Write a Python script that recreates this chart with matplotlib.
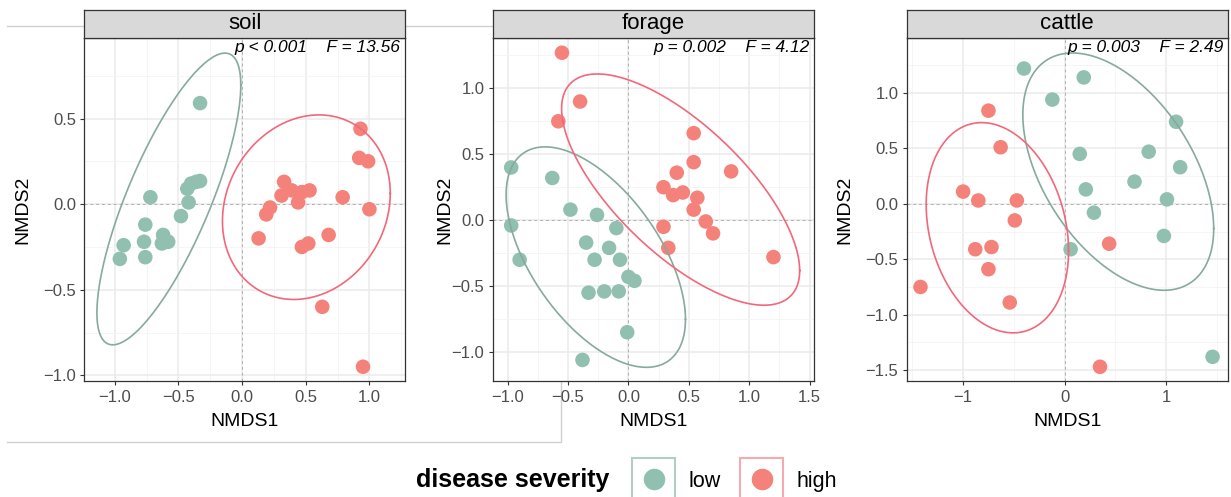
import numpy as np
import matplotlib
matplotlib.use("Agg")
import matplotlib.pyplot as plt
from matplotlib.patches import Rectangle
from matplotlib.lines import Line2D

plt.rcParams['font.family'] = ['Liberation Sans', 'DejaVu Sans']

LOW_COLOR = '#92c0b0'
HIGH_COLOR = '#f4827a'
LOW_LINE = '#86aa9c'
HIGH_LINE = '#f2687a'

# NMDS scores per sample, split by disease severity
soil_low_x = [-0.33, -0.72, -0.43, -0.40, -0.36, -0.33, -0.42, -0.48, -0.76, -0.62,
              -0.58, -0.63, -0.77, -0.76, -0.93, -0.96]
soil_low_y = [0.59, 0.04, 0.09, 0.12, 0.13, 0.135, 0.01, -0.07, -0.12, -0.18,
              -0.22, -0.23, -0.22, -0.31, -0.24, -0.32]
soil_high_x = [0.93, 0.92, 0.99, 0.33, 0.31, 0.39, 0.47, 0.53, 0.44, 0.79,
               1.00, 0.22, 0.19, 0.13, 0.47, 0.52, 0.68, 0.63, 0.95]
soil_high_y = [0.44, 0.27, 0.25, 0.13, 0.05, 0.08, 0.07, 0.08, 0.01, 0.04,
               -0.03, -0.02, -0.06, -0.20, -0.25, -0.23, -0.18, -0.60, -0.95]

forage_low_x = [-0.97, -0.63, -0.48, -0.26, -0.10, -0.97, -0.90, -0.35, -0.28, -0.16,
                -0.07, 0.00, 0.05, -0.33, -0.20, -0.08, -0.01, -0.38]
forage_low_y = [0.40, 0.32, 0.08, 0.04, -0.06, -0.04, -0.30, -0.17, -0.30, -0.21,
                -0.30, -0.43, -0.46, -0.55, -0.54, -0.54, -0.85, -1.06]
forage_high_x = [-0.55, -0.40, -0.58, 0.54, 0.54, 0.40, 0.85, 0.29, 0.37, 0.45,
                 0.57, 0.54, 0.64, 0.29, 0.70, 0.33, 1.20]
forage_high_y = [1.27, 0.90, 0.75, 0.66, 0.44, 0.36, 0.37, 0.25, 0.19, 0.21,
                 0.17, 0.08, -0.01, -0.05, -0.10, -0.21, -0.28]

cattle_low_x = [-0.40, 0.19, -0.12, 1.10, 0.83, 0.15, 1.14, 0.69, 0.21, 1.01,
                0.29, 0.98, 0.06, 1.46]
cattle_low_y = [1.22, 1.14, 0.94, 0.74, 0.47, 0.45, 0.33, 0.20, 0.13, 0.04,
                -0.08, -0.29, -0.41, -1.38]
cattle_high_x = [-0.75, -0.63, -1.00, -0.85, -0.47, -0.49, -0.88, -0.72, -0.75, -1.42,
                 -0.54, 0.44, 0.35]
cattle_high_y = [0.84, 0.51, 0.11, 0.03, 0.03, -0.15, -0.41, -0.39, -0.59, -0.75,
                 -0.89, -0.36, -1.47]

# 95% ellipses: centre x, centre y, half-range x, half-range y, correlation
soil_low_ell = [-0.575, 0.03, 0.565, 0.852, 0.78]
soil_high_ell = [0.505, -0.018, 0.659, 0.539, 0.15]
forage_low_ell = [-0.27, -0.28, 0.742, 0.836, -0.565]
forage_high_ell = [0.432, 0.232, 0.985, 0.877, -0.70]
cattle_low_ell = [0.53, 0.29, 0.941, 1.07, -0.48]
cattle_high_ell = [-0.662, -0.216, 0.702, 0.948, -0.22]

panel_names = ['soil', 'forage', 'cattle']
panel_stats = ['p < 0.001    F = 13.56', 'p = 0.002    F = 4.12', 'p = 0.003    F = 2.49']

W, H = 1231, 497


def fx(px):
    return px / W


def fy(py):
    return 1 - py / H


def ellipse(ax, params, color):
    cx, cy, sx, sy, r = params
    t = np.linspace(0, 2 * np.pi, 300)
    x = cx + sx * np.cos(t)
    y = cy + sy * (r * np.cos(t) + np.sqrt(1 - r ** 2) * np.sin(t))
    ax.plot(x, y, color=color, lw=1.2, zorder=4)


panels = [
    dict(low=(soil_low_x, soil_low_y), high=(soil_high_x, soil_high_y),
         ell=(soil_low_ell, soil_high_ell), xlim=(-1.239, 1.282), ylim=(-1.035, 0.972),
         xt=[-1.0, -0.5, 0.0, 0.5, 1.0], yt=[-1.0, -0.5, 0.0, 0.5], step=(0.25, 0.25)),
    dict(low=(forage_low_x, forage_low_y), high=(forage_high_x, forage_high_y),
         ell=(forage_low_ell, forage_high_ell), xlim=(-1.123, 1.533), ylim=(-1.222, 1.384),
         xt=[-1.0, -0.5, 0.0, 0.5, 1.0, 1.5], yt=[-1.0, -0.5, 0.0, 0.5, 1.0], step=(0.25, 0.25)),
    dict(low=(cattle_low_x, cattle_low_y), high=(cattle_high_x, cattle_high_y),
         ell=(cattle_low_ell, cattle_high_ell), xlim=(-1.556, 1.609), ylim=(-1.601, 1.498),
         xt=[-1, 0, 1], yt=[-1.5, -1.0, -0.5, 0.0, 0.5, 1.0], step=(0.5, 0.25)),
]

lefts = [84.3, 492.7, 906.7]
ylab_x = [23.3, 445, 845]
pw = 321
top, bottom, strip_top = 37.7, 381.3, 9.5

fig = plt.figure(figsize=(W / 100, H / 100), dpi=100)

# faint outline behind the left panels
fig.add_artist(Line2D([fx(7), fx(561), fx(561), fx(7)], [fy(26), fy(26), fy(441.7), fy(441.7)],
                      color='#d0d0d0', lw=1, zorder=-1))

for i, p in enumerate(panels):
    left = lefts[i]
    ax = fig.add_axes([fx(left), fy(bottom), pw / W, (bottom - top) / H])
    ax.set_xticks(p['xt'])
    ax.set_yticks(p['yt'])
    sx, sy = p['step']
    ax.set_xticks(np.arange(-2, 2.01, sx), minor=True)
    ax.set_yticks(np.arange(-2, 2.01, sy), minor=True)
    ax.set_xlim(*p['xlim'])
    ax.set_ylim(*p['ylim'])
    ax.grid(which='major', color='#ebebeb', lw=1.1)
    ax.grid(which='minor', color='#f4f4f4', lw=0.6)
    ax.set_axisbelow(True)
    ax.axhline(0, color='#b0b0b0', lw=0.7, ls=(0, (3, 3)), zorder=1)
    ax.axvline(0, color='#b0b0b0', lw=0.7, ls=(0, (3, 3)), zorder=1)

    ax.scatter(*p['low'], s=110, color=LOW_COLOR, edgecolors='none', zorder=3)
    ax.scatter(*p['high'], s=110, color=HIGH_COLOR, edgecolors='none', zorder=3)
    ellipse(ax, p['ell'][0], LOW_LINE)
    ellipse(ax, p['ell'][1], HIGH_LINE)

    ax.tick_params(which='major', length=3, width=0.8, color='#333333',
                   labelcolor='#4d4d4d', labelsize=12, pad=3)
    ax.tick_params(which='minor', length=0)
    for s in ax.spines.values():
        s.set_color('#333333')
        s.set_linewidth(0.9)

    ax.text(0.986, 0.993, panel_stats[i], transform=ax.transAxes, ha='right', va='top',
            fontsize=12.5, style='italic', zorder=5)

    # facet strip
    sax = fig.add_axes([fx(left), fy(top), pw / W, (top - strip_top) / H])
    sax.set_facecolor('#d9d9d9')
    sax.set_xticks([])
    sax.set_yticks([])
    for s in sax.spines.values():
        s.set_color('#333333')
        s.set_linewidth(0.9)
    sax.text(0.5, 0.5, panel_names[i], transform=sax.transAxes, ha='center', va='center',
             fontsize=16)

    fig.text(fx(left + pw / 2), fy(426), 'NMDS1', ha='center', va='baseline', fontsize=14)
    fig.text(fx(ylab_x[i]), fy((top + bottom) / 2), 'NMDS2', rotation=90,
             ha='center', va='center', fontsize=14)

# legend
fig.text(fx(416), fy(486.7), 'disease severity', fontsize=18, fontweight='bold',
         ha='left', va='baseline')
for kx, fill, edge, label, tx in [(632.3, LOW_COLOR, '#b3cdc3', 'low', 688),
                                  (740, HIGH_COLOR, '#f5aab2', 'high', 796)]:
    fig.add_artist(Rectangle((fx(kx), fy(502)), 42.5 / W, (502 - 458.3) / H,
                             facecolor='white', edgecolor=edge, lw=1.5))
    fig.add_artist(Line2D([fx(kx + 21.5)], [fy(479.3)], marker='o', markersize=15.5,
                          color=fill, markeredgewidth=0))
    fig.text(fx(tx), fy(486.7), label, fontsize=15.5, ha='left', va='baseline')

fig.savefig('out.png', dpi=100)
